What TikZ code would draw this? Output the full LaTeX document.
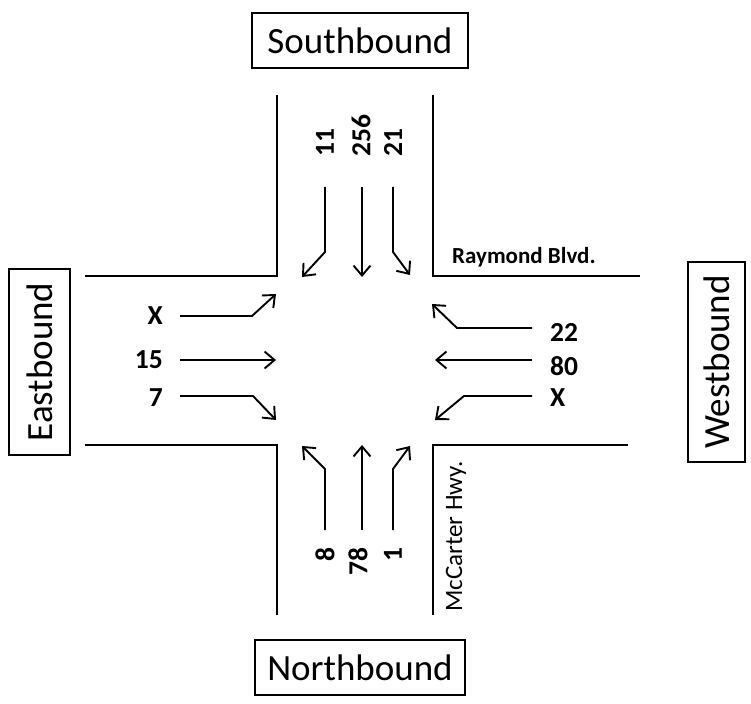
\documentclass[tikz,border=0pt]{standalone}
\usepackage{fontspec}
\setmainfont{Carlito}
\usetikzlibrary{arrows.meta}
\begin{document}
\begin{tikzpicture}[x=1pt,y=-1pt,
	road/.style={line width=2.2pt},
	lane/.style={line width=1.9pt,-{Straight Barb[length=10pt,width=17pt]}},
	bound/.style={draw,line width=1.3pt,inner sep=0pt,font=\fontsize{37}{40}\selectfont},
	count/.style={inner sep=0pt,font=\bfseries\fontsize{27.5}{30}\selectfont},
	street/.style={inner sep=0pt,font=\fontsize{25}{27}\selectfont}]
		\useasboundingbox (0,0) rectangle (751,703);
		%direction boxes
		\node[bound,minimum width=216pt,minimum height=55pt] (south) at (360,40.5) {Southbound};
		\node[bound,minimum width=210pt,minimum height=55pt] (north) at (360,667.5) {Northbound};
		\node[bound,rotate=90,minimum width=186pt,minimum height=61pt] (east) at (39.5,362) {Eastbound};
		\node[bound,rotate=90,minimum width=200pt,minimum height=57pt] (west) at (716.5,362) {Westbound};
		%roads
		\draw[road] (277,95) -- (277,276) -- (85,276);
		\draw[road] (433,95) -- (433,276) -- (640,276);
		\draw[road] (85,445) -- (277,445) -- (277,615);
		\draw[road] (628,445) -- (433,445) -- (433,615);
		\node[street,font=\bfseries\fontsize{23}{26}\selectfont,anchor=base west] (raymond) at (452,263) {Raymond Blvd.};
		\node[street,rotate=90,anchor=base west] (mccarter) at (462,612) {McCarter Hwy.};
		%southbound lanes
		\draw[lane] (325,187) -- (325,252) -- (302,277);
		\draw[lane] (362,187) -- (362,277);
		\draw[lane] (393,187) -- (393,252) -- (410,275);
		\foreach \x/\n in {325/11,361/256,393/21}
			\node[count,rotate=90,anchor=west] (s\n) at (\x,157) {\n};
		%eastbound lanes
		\draw[lane] (180,316) -- (252,316) -- (276,294);
		\draw[lane] (180,360) -- (276,360);
		\draw[lane] (180,396) -- (253,396) -- (276,420);
		\foreach \y/\n [count=\i] in {316/X,360/15,398/7}
			\node[count,anchor=east] (e\i) at (163,\y) {\n};
		%westbound lanes
		\draw[lane] (532,328) -- (457,328) -- (432,304);
		\draw[lane] (532,360) -- (435,360);
		\draw[lane] (532,396) -- (464,396) -- (435,420);
		\foreach \y/\n [count=\i] in {332/22,366/80,398/X}
			\node[count,anchor=west] (w\i) at (550,\y) {\n};
		%northbound lanes
		\draw[lane] (325,530) -- (325,469) -- (302,446);
		\draw[lane] (362,530) -- (362,445);
		\draw[lane] (393,530) -- (393,469) -- (410,446);
		\foreach \x/\n in {325/8,358/78,393/1}
			\node[count,rotate=90,anchor=east] (n\n) at (\x,547) {\n};
	\end{tikzpicture}
\end{document}
